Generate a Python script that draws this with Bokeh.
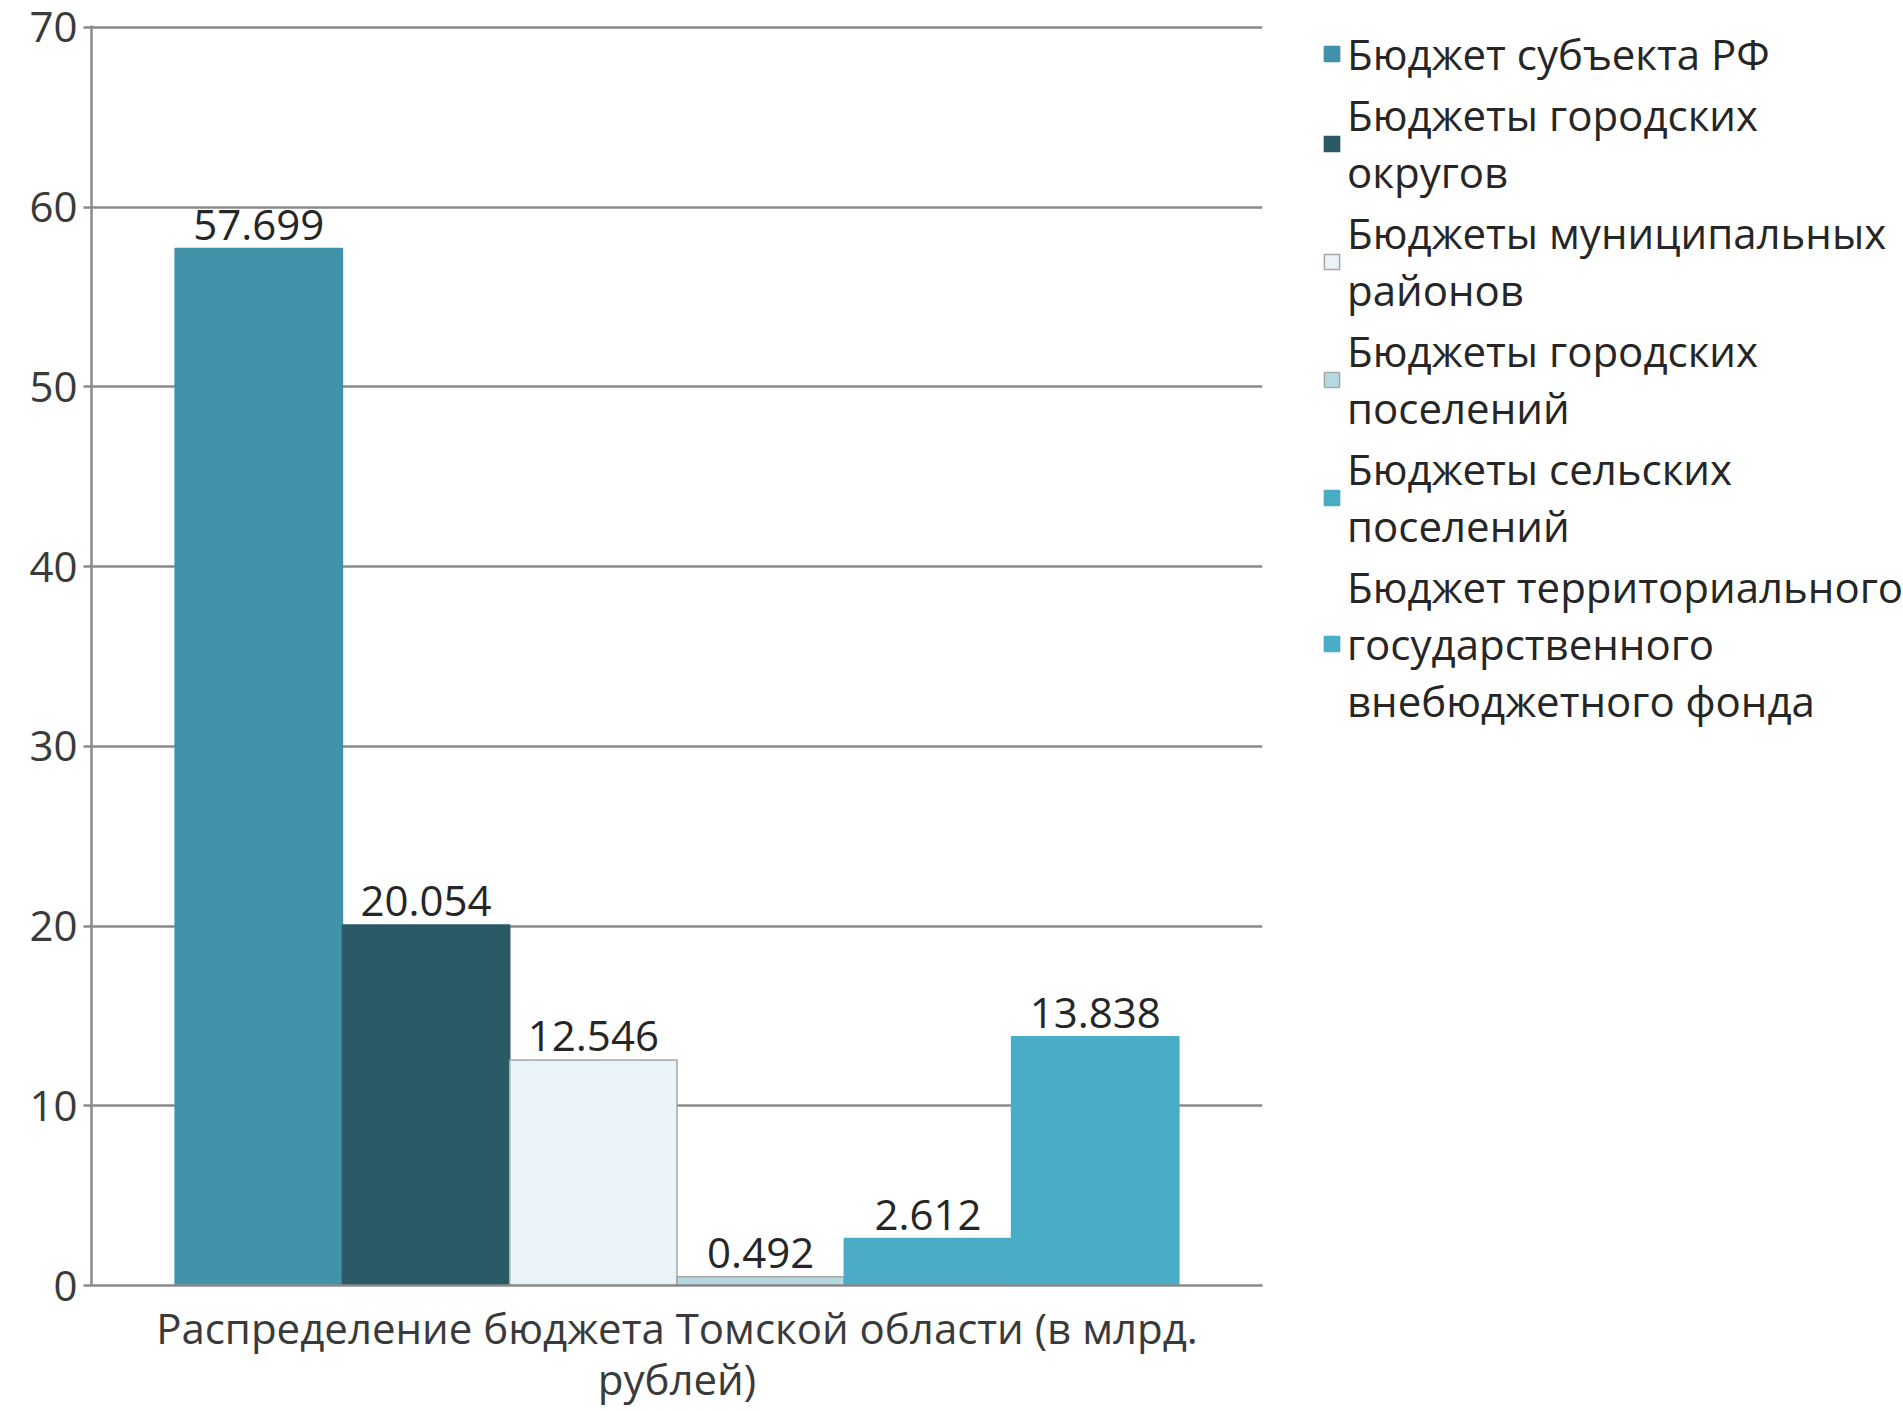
from bokeh.plotting import figure
from bokeh.layouts import row
from bokeh.models import FactorRange, Range1d, Legend, LegendItem, ColumnDataSource, FixedTicker
from bokeh.transform import dodge
from bokeh.embed import file_html
from bokeh.resources import INLINE
from bokeh.core.properties import value

category = "Распределение бюджета Томской области (в млрд.\nрублей)"
series = [
    "Бюджет субъекта РФ",
    "Бюджеты городских\nокругов",
    "Бюджеты муниципальных\nрайонов",
    "Бюджеты городских\nпоселений",
    "Бюджеты сельских\nпоселений",
    "Бюджет территориального\nгосударственного\nвнебюджетного фонда",
]
values = [57.699, 20.054, 12.546, 0.492, 2.612, 13.838]
colors = ["#4193A9", "#2A5A66", "#EAF4F8", "#B4DAE0", "#4BABC4", "#4AADC8"]
outline = ["#4193A9", "#2A5A66", "#A6A6A6", "#A6A6A6", "#4BABC4", "#4AADC8"]
y_ticks = [0, 10, 20, 30, 40, 50, 60, 70]

FONT = "Open Sans"
FS = "42px"
GRID = "#8A8A8A"

p = figure(
    x_range=FactorRange(factors=[category], range_padding=0),
    y_range=Range1d(0, 70.11),
    width=1322, height=1411,
    min_border_left=91, min_border_top=25, min_border_right=60, min_border_bottom=126,
    output_backend="svg", toolbar_location=None,
)
p.outline_line_color = None
p.background_fill_color = "white"
p.border_fill_color = "white"

p.xgrid.grid_line_color = None
p.ygrid.grid_line_color = GRID
p.ygrid.grid_line_width = 2.5
p.yaxis.ticker = FixedTicker(ticks=y_ticks)
p.yaxis.axis_line_color = GRID
p.yaxis.axis_line_width = 2.5
p.yaxis.major_tick_line_color = GRID
p.yaxis.major_tick_line_width = 2.5
p.yaxis.major_tick_in = 0
p.yaxis.major_tick_out = 8
p.yaxis.minor_tick_line_color = None
p.yaxis.major_label_standoff = 6
p.yaxis.major_label_text_font = FONT
p.yaxis.major_label_text_font_size = FS
p.yaxis.major_label_text_color = "#3A3A3A"

p.xaxis.axis_line_color = GRID
p.xaxis.axis_line_width = 2.5
p.xaxis.major_tick_line_color = None
p.xaxis.major_label_standoff = 7
p.xaxis.major_label_text_font = FONT
p.xaxis.major_label_text_font_size = FS
p.xaxis.major_label_text_color = "#3A3A3A"
p.xaxis.major_label_text_line_height = 0.9

# legend-only figure; its copies of the bars are hidden
pl = figure(
    x_range=FactorRange(factors=[category], range_padding=0),
    y_range=Range1d(0, 70),
    width=581, height=1411, min_border=0,
    x_axis_location=None, y_axis_location=None,
    output_backend="svg", toolbar_location=None,
)
pl.outline_line_color = None
pl.xgrid.grid_line_color = None
pl.ygrid.grid_line_color = None

n = len(series)
w = 1.0 / (n + 1)
items = []
for i, (s, v, c, lc) in enumerate(zip(series, values, colors, outline)):
    off = (i - (n - 1) / 2) * w
    src = ColumnDataSource(dict(x=[category], top=[v], label=[f"{v:.3f}"]))
    p.vbar(x=dodge("x", off, range=p.x_range), top="top", width=w, source=src,
           fill_color=c, line_color=lc, line_width=1.5)
    p.text(x=dodge("x", off, range=p.x_range), y="top", text="label", source=src,
           text_align="center", text_baseline="bottom", y_offset=-9,
           text_font=value(FONT), text_font_size=FS, text_color="#262626")
    r = pl.vbar(x=dodge("x", off, range=pl.x_range), top="top", width=w, source=src,
                fill_color=c, line_color=lc, line_width=1.5, visible=False)
    items.append(LegendItem(label=s, renderers=[r]))

legend = Legend(
    items=items, location="top_left", orientation="vertical",
    border_line_color=None, background_fill_alpha=0,
    padding=0, margin=0, spacing=4,
    glyph_width=19, glyph_height=19, label_standoff=6,
    label_text_font=FONT, label_text_font_size=FS,
    label_text_color="#262626", label_text_line_height=1.45,
    inactive_fill_alpha=0,
)
pl.add_layout(legend)

layout = row(p, pl)
open("out.html", "w").write(file_html(layout, INLINE))
